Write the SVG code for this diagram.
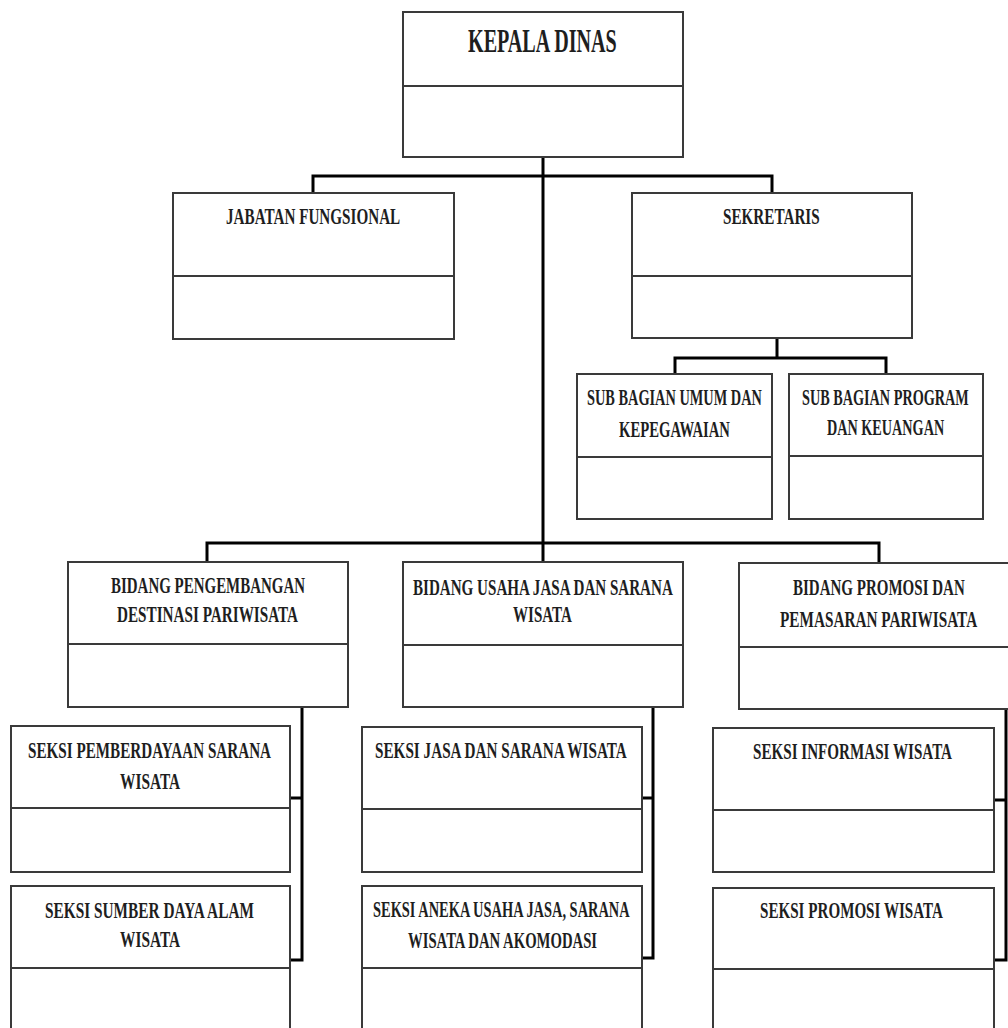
<svg xmlns="http://www.w3.org/2000/svg" width="1008" height="1028" viewBox="0 0 1008 1028">
<style>
.box{fill:#fff;stroke:#3a3a3a;stroke-width:2}
.div{stroke:#3a3a3a;stroke-width:2}
.con{fill:none;stroke:#000;stroke-width:3}
text{font-family:"Liberation Serif","Times New Roman",serif;font-weight:bold;fill:#1e1e1e}
.t{font-size:23px}
.big{font-size:34px}
</style>
<rect width="1008" height="1028" fill="#fff"/>
<g id="connectors">
<path class="con" d="M543 157V543M313 193V176H772V193"/>
<path class="con" d="M777 338V358M675 374V358H886V374"/>
<path class="con" d="M207 562V543H879V563M543 543V562"/>
<path class="con" d="M302 707V960H290M290 798H302"/>
<path class="con" d="M653 707V958H642M642 798H653"/>
<path class="con" d="M1006 709V960H994M994 800H1006"/>
</g>
<g id="kepala-dinas">
<rect class="box" x="403" y="12" width="280" height="145"/>
<line class="div" x1="403" y1="86" x2="683" y2="86"/>
<text class="big" transform="translate(468 52) scale(0.6 1)" textLength="248" lengthAdjust="spacingAndGlyphs">KEPALA DINAS</text>
</g>
<g id="jabatan-fungsional">
<rect class="box" x="173" y="193" width="281" height="146"/>
<line class="div" x1="173" y1="276" x2="454" y2="276"/>
<text class="t" transform="translate(226 224) scale(0.62 1)" textLength="281" lengthAdjust="spacingAndGlyphs">JABATAN FUNGSIONAL</text>
</g>
<g id="sekretaris">
<rect class="box" x="632" y="193" width="280" height="145"/>
<line class="div" x1="632" y1="276" x2="912" y2="276"/>
<text class="t" transform="translate(723 224) scale(0.62 1)" textLength="156" lengthAdjust="spacingAndGlyphs">SEKRETARIS</text>
</g>
<g id="sub-umum">
<rect class="box" x="577" y="374" width="195" height="145"/>
<line class="div" x1="577" y1="457" x2="772" y2="457"/>
<text class="t" transform="translate(587 405) scale(0.62 1)" textLength="282" lengthAdjust="spacingAndGlyphs">SUB BAGIAN UMUM DAN</text>
<text class="t" transform="translate(619 437) scale(0.62 1)" textLength="179" lengthAdjust="spacingAndGlyphs">KEPEGAWAIAN</text>
</g>
<g id="sub-program">
<rect class="box" x="789" y="374" width="194" height="145"/>
<line class="div" x1="789" y1="456" x2="983" y2="456"/>
<text class="t" transform="translate(802 405) scale(0.62 1)" textLength="269" lengthAdjust="spacingAndGlyphs">SUB BAGIAN PROGRAM</text>
<text class="t" transform="translate(827 435) scale(0.62 1)" textLength="189" lengthAdjust="spacingAndGlyphs">DAN KEUANGAN</text>
</g>
<g id="bidang-pengembangan">
<rect class="box" x="68" y="562" width="280" height="145"/>
<line class="div" x1="68" y1="644" x2="348" y2="644"/>
<text class="t" transform="translate(111 593) scale(0.62 1)" textLength="313" lengthAdjust="spacingAndGlyphs">BIDANG PENGEMBANGAN</text>
<text class="t" transform="translate(117 622) scale(0.62 1)" textLength="292" lengthAdjust="spacingAndGlyphs">DESTINASI PARIWISATA</text>
</g>
<g id="bidang-usaha">
<rect class="box" x="403" y="562" width="280" height="145"/>
<line class="div" x1="403" y1="645" x2="683" y2="645"/>
<text class="t" transform="translate(413 595) scale(0.62 1)" textLength="419" lengthAdjust="spacingAndGlyphs">BIDANG USAHA JASA DAN SARANA</text>
<text class="t" transform="translate(513 622) scale(0.62 1)" textLength="95" lengthAdjust="spacingAndGlyphs">WISATA</text>
</g>
<g id="bidang-promosi">
<rect class="box" x="739" y="563" width="280" height="146"/>
<line class="div" x1="739" y1="647" x2="1019" y2="647"/>
<text class="t" transform="translate(793 595) scale(0.62 1)" textLength="277" lengthAdjust="spacingAndGlyphs">BIDANG PROMOSI DAN</text>
<text class="t" transform="translate(780 627) scale(0.62 1)" textLength="318" lengthAdjust="spacingAndGlyphs">PEMASARAN PARIWISATA</text>
</g>
<g id="seksi-pemberdayaan">
<rect class="box" x="11" y="726" width="279" height="146"/>
<line class="div" x1="11" y1="808" x2="290" y2="808"/>
<text class="t" transform="translate(28 758) scale(0.62 1)" textLength="392" lengthAdjust="spacingAndGlyphs">SEKSI PEMBERDAYAAN SARANA</text>
<text class="t" transform="translate(120 789) scale(0.62 1)" textLength="97" lengthAdjust="spacingAndGlyphs">WISATA</text>
</g>
<g id="seksi-sumber-daya">
<rect class="box" x="11" y="886" width="279" height="160"/>
<line class="div" x1="11" y1="968" x2="290" y2="968"/>
<text class="t" transform="translate(45 918) scale(0.62 1)" textLength="337" lengthAdjust="spacingAndGlyphs">SEKSI SUMBER DAYA ALAM</text>
<text class="t" transform="translate(120 947) scale(0.62 1)" textLength="97" lengthAdjust="spacingAndGlyphs">WISATA</text>
</g>
<g id="seksi-jasa">
<rect class="box" x="362" y="727" width="280" height="145"/>
<line class="div" x1="362" y1="809" x2="642" y2="809"/>
<text class="t" transform="translate(375 758) scale(0.62 1)" textLength="406" lengthAdjust="spacingAndGlyphs">SEKSI JASA DAN SARANA WISATA</text>
</g>
<g id="seksi-aneka">
<rect class="box" x="362" y="886" width="280" height="160"/>
<line class="div" x1="362" y1="968" x2="642" y2="968"/>
<text class="t" transform="translate(373 917) scale(0.62 1)" textLength="414" lengthAdjust="spacingAndGlyphs">SEKSI ANEKA USAHA JASA, SARANA</text>
<text class="t" transform="translate(408 948) scale(0.62 1)" textLength="305" lengthAdjust="spacingAndGlyphs">WISATA DAN AKOMODASI</text>
</g>
<g id="seksi-informasi">
<rect class="box" x="713" y="728" width="281" height="144"/>
<line class="div" x1="713" y1="810" x2="994" y2="810"/>
<text class="t" transform="translate(753 759) scale(0.62 1)" textLength="321" lengthAdjust="spacingAndGlyphs">SEKSI INFORMASI WISATA</text>
</g>
<g id="seksi-promosi">
<rect class="box" x="713" y="888" width="281" height="160"/>
<line class="div" x1="713" y1="969" x2="994" y2="969"/>
<text class="t" transform="translate(760 918) scale(0.62 1)" textLength="295" lengthAdjust="spacingAndGlyphs">SEKSI PROMOSI WISATA</text>
</g>
</svg>
